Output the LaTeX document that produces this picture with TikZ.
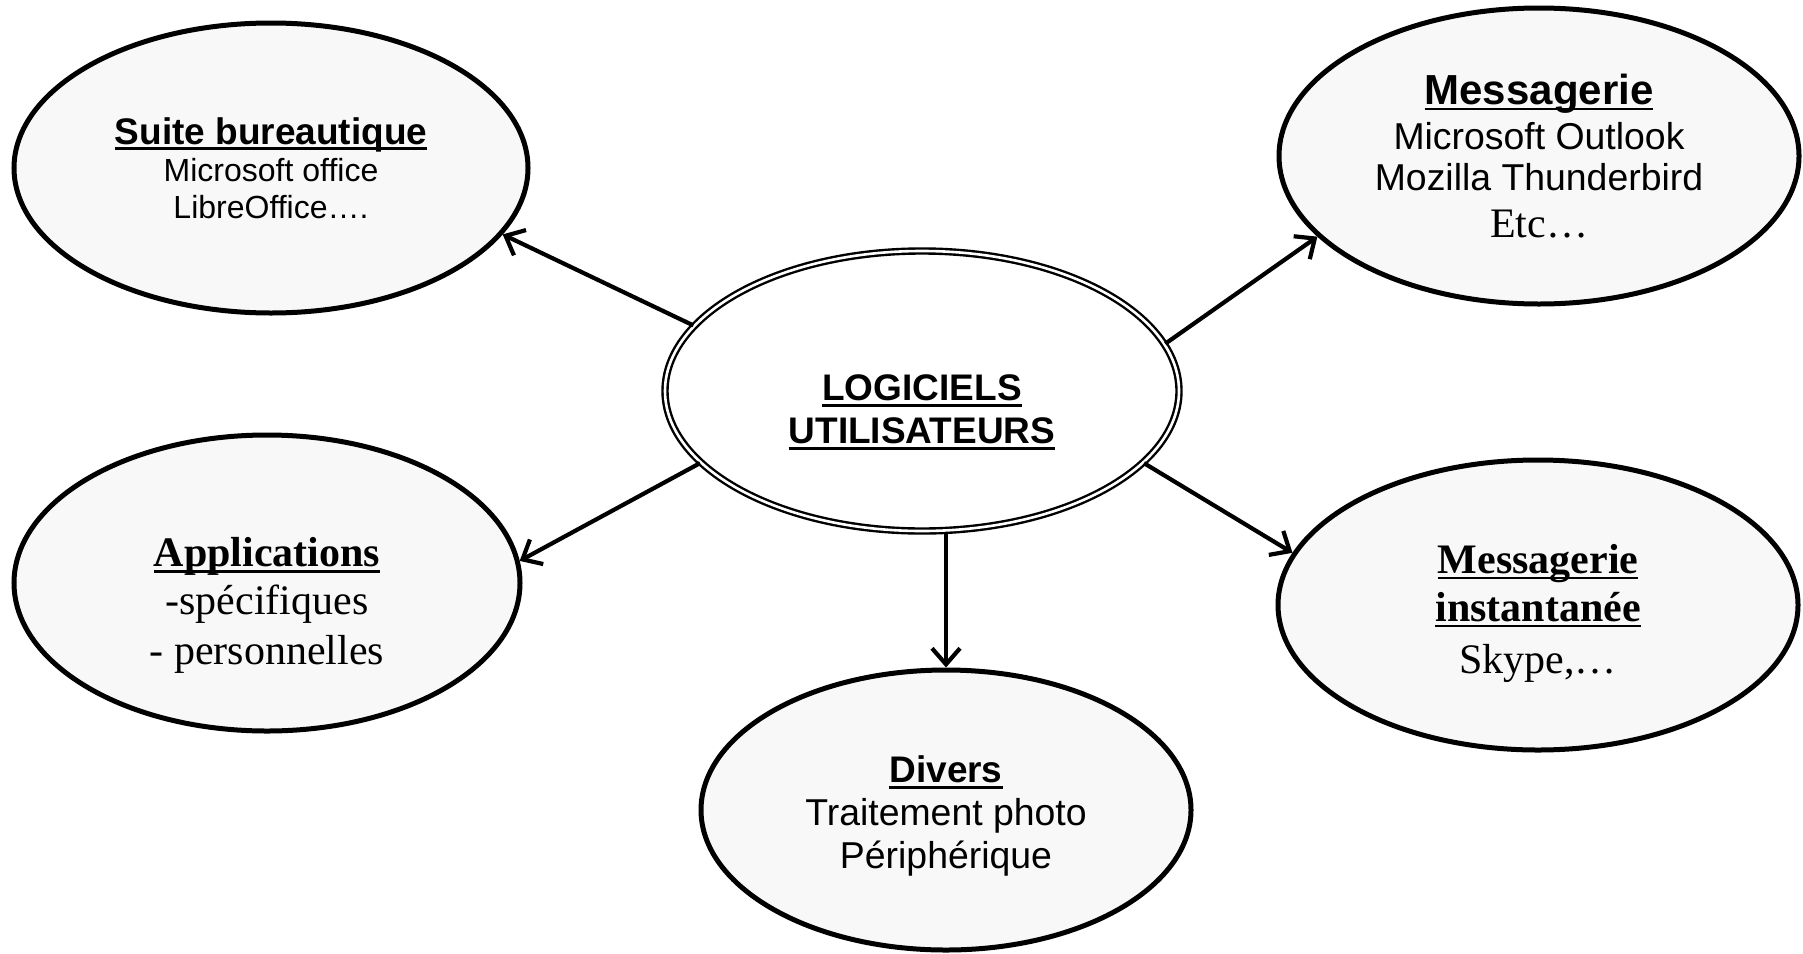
\documentclass[tikz,border=0pt]{standalone}
\usepackage{fontspec}
\setmainfont{Liberation Serif}
\setsansfont{Liberation Sans}
\usetikzlibrary{shapes.geometric,arrows.meta}
\definecolor{fondbulle}{HTML}{F8F8F8}
\newcommand{\souligne}[1]{\leavevmode\setbox0=\hbox{#1}\rlap{\rule[-3pt]{\wd0}{1.4pt}}\copy0}
\newcommand{\titre}[2]{{\fontsize{#1}{#1}\selectfont\bfseries\souligne{#2}}}
\begin{document}
\begin{tikzpicture}[x=0.5pt,y=-0.5pt,
	bulle/.style={ellipse,draw,line width=2.5pt,fill=fondbulle,inner sep=0pt,align=center},
	fleche/.style={-{Straight Barb[length=8pt,width=14pt]},line width=2.1pt}]
	\useasboundingbox (0,0) rectangle (1803,953);
	\node[ellipse,draw,double,line width=1.2pt,double distance=1.3pt,fill=white,inner sep=0pt,align=center,minimum width=257pt,minimum height=140pt,font=\sffamily\fontsize{18.5}{21.5}\selectfont\bfseries] (logiciels) at (922,391) {\rule{0pt}{34pt}\souligne{LOGICIELS}\\\souligne{UTILISATEURS}};
	\node[bulle,minimum width=257pt,minimum height=145pt,font=\sffamily\fontsize{16}{18.5}\selectfont] (suite) at (271,168) {\titre{18.5}{Suite bureautique}\\Microsoft office\\LibreOffice….};
	\node[bulle,minimum width=260pt,minimum height=148pt,font=\sffamily\fontsize{18.7}{20.5}\selectfont] (messagerie) at (1539,156) {\titre{21}{Messagerie}\\[2pt]Microsoft Outlook\\Mozilla Thunderbird\\[3pt]{\rmfamily\fontsize{21}{21}\selectfont Etc…}};
	\node[bulle,minimum width=253pt,minimum height=148pt,font=\fontsize{21}{24}\selectfont] (applications) at (267,583) {\rule{0pt}{37pt}\titre{21}{Applications}\\-spécifiques\\[1pt]- personnelles};
	\node[bulle,minimum width=260pt,minimum height=145pt,font=\fontsize{21}{24}\selectfont] (instantanee) at (1538,605) {\rule{0pt}{23pt}\titre{21}{Messagerie}\\\titre{21}{instantanée}\\[2pt]Skype,…};
	\node[bulle,minimum width=245pt,minimum height=140pt,font=\sffamily\fontsize{18.7}{21.5}\selectfont] (divers) at (946,810) {\rule{0pt}{19.5pt}\titre{18.5}{Divers}\\Traitement photo\\Périphérique};
	% fleches depuis le centre
	\draw[fleche] (logiciels.164.8) -- (suite.-16);
	\draw[fleche] (logiciels.11.3) -- (messagerie.200);
	\draw[fleche] (logiciels.198) -- (applications.5.6);
	\draw[fleche] (logiciels.-18) -- (instantanee.168);
	\draw[fleche] (divers.north |- logiciels.south) -- (divers.north);
\end{tikzpicture}
\end{document}
